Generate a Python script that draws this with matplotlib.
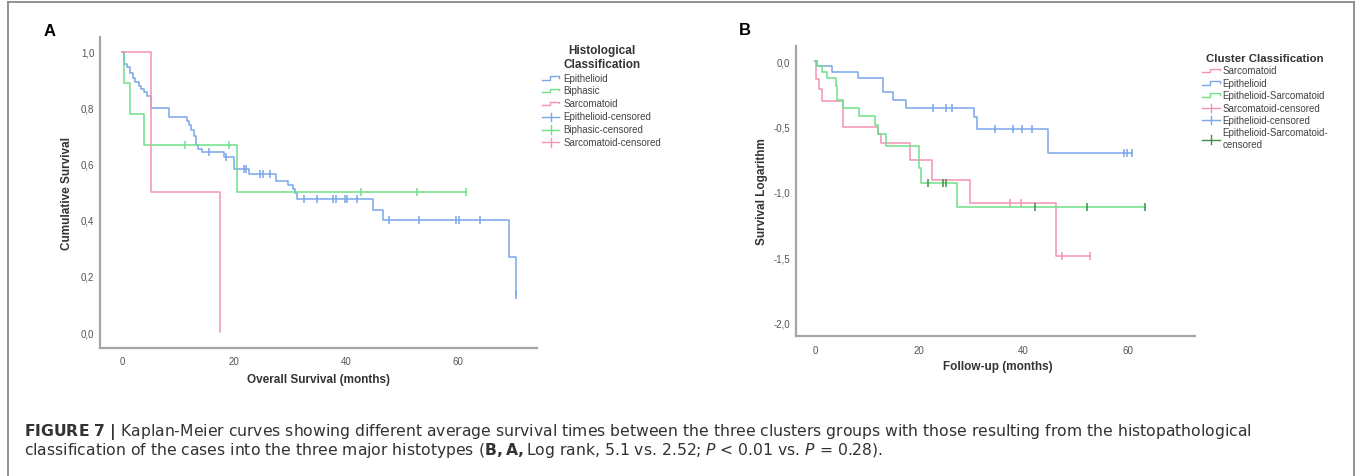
import numpy as np
import matplotlib
matplotlib.use("Agg")
import matplotlib.pyplot as plt
from matplotlib.lines import Line2D
from matplotlib.legend_handler import HandlerBase

plt.rcParams['font.family'] = ['Liberation Sans', 'DejaVu Sans']
plt.rcParams['mathtext.fontset'] = 'dejavusans'

# ---- panel A : histological classification (cumulative survival) ----
a_epi_t = [0, 0.3, 1.0, 1.5, 1.9, 2.4, 3.0, 3.4, 4.0, 4.5, 5.2, 8.4, 11.6, 12.0, 12.4,
           12.8, 13.2, 13.6, 14.3, 18.2, 19.9, 22.7, 27.5, 29.6, 30.5, 30.9, 31.2,
           44.8, 46.6, 69.1, 70.3]
a_epi_s = [1.0, 0.956, 0.944, 0.925, 0.907, 0.893, 0.878, 0.866, 0.855, 0.84, 0.80,
           0.766, 0.752, 0.738, 0.72, 0.70, 0.667, 0.653, 0.641, 0.623, 0.582, 0.564,
           0.54, 0.523, 0.51, 0.496, 0.473, 0.435, 0.40, 0.267, 0.133]
a_epi_cens = [15.5, 18.5, 21.7, 22.1, 24.7, 25.2, 26.4, 32.5, 34.8, 37.6, 38.2, 39.8,
              40.1, 42.0, 47.6, 53.0, 59.5, 60.1, 63.8, 70.3]
a_epi_end = 70.3

a_bip_t = [0, 0.3, 1.5, 4.0, 20.5]
a_bip_s = [1.0, 0.889, 0.778, 0.667, 0.5]
a_bip_cens = [11.2, 19.1, 42.6, 52.6, 61.4]
a_bip_end = 61.4

a_sar_t = [0, 5.2, 17.5]
a_sar_s = [1.0, 0.5, 0.0]
a_sar_cens = []
a_sar_end = 17.5

a_xticks = [0, 20, 40, 60]
a_yticks = [0.0, 0.2, 0.4, 0.6, 0.8, 1.0]
a_ytick_labels = ['0,0', '0,2', '0,4', '0,6', '0,8', '1,0']

# ---- panel B : cluster classification (log survival) ----
b_sar_t = [0, 0.2, 0.8, 1.3, 5.4, 12.1, 12.6, 18.2, 22.4, 29.7, 46.3]
b_sar_v = [0, -0.135, -0.21, -0.30, -0.50, -0.56, -0.625, -0.755, -0.908, -1.087, -1.495]
b_sar_cens = [37.4, 39.5, 47.3, 52.7]
b_sar_end = 52.7

b_epi_t = [0, 0.3, 3.2, 8.3, 13.1, 15.0, 17.4, 30.5, 31.0, 44.7]
b_epi_v = [0, -0.038, -0.079, -0.13, -0.237, -0.293, -0.355, -0.43, -0.52, -0.704]
b_epi_cens = [22.7, 25.2, 26.3, 34.6, 38.0, 39.7, 41.7, 59.2, 59.9, 60.9]
b_epi_end = 60.9

b_es_t = [0, 0.3, 1.3, 2.4, 4.0, 4.2, 5.4, 8.4, 11.5, 12.0, 13.6, 20.0, 20.3, 27.3]
b_es_v = [0, -0.038, -0.079, -0.13, -0.186, -0.293, -0.355, -0.42, -0.49, -0.56,
          -0.645, -0.82, -0.93, -1.117]
b_es_cens = [21.7, 24.5, 25.2, 42.3, 52.2, 63.4]
b_es_end = 63.4

b_xticks = [0, 20, 40, 60]
b_yticks = [-2.0, -1.5, -1.0, -0.5, 0.0]
b_ytick_labels = ['-2,0', '-1,5', '-1,0', '-0,5', '0,0']

caption1 = (r"$\mathbf{FIGURE\ 7\ |}$ Kaplan-Meier curves showing different average survival "
            "times between the three clusters groups with those resulting from the "
            "histopathological")
caption2 = (r"classification of the cases into the three major histotypes "
            r"($\mathbf{B,A,}$Log rank, 5.1 vs. 2.52; $\mathit{P}$ < 0.01 vs. "
            r"$\mathit{P}$ = 0.28).")

BLUE = '#7aa6ea'
GREEN = '#6fdf88'
PINK = '#f493b0'
DKGREEN = '#3f8f45'
SPINE = '#a5a5a5'
TICK = '#555555'


class StepHandler(HandlerBase):
    def create_artists(self, legend, orig, xd, yd, w, h, fontsize, trans):
        x0, y0 = -xd, -yd
        xs = [x0, x0 + 0.45 * w, x0 + 0.45 * w, x0 + w, x0 + w]
        ys = [y0 + 0.15 * h, y0 + 0.15 * h, y0 + 0.7 * h, y0 + 0.7 * h, y0 + 0.45 * h]
        return [Line2D(xs, ys, color=orig.get_color(), lw=1.0, transform=trans)]


class CensorHandler(HandlerBase):
    def create_artists(self, legend, orig, xd, yd, w, h, fontsize, trans):
        x0, y0 = -xd, -yd
        l1 = Line2D([x0, x0 + w], [y0 + 0.4 * h] * 2, color=orig.get_color(), lw=1.0,
                    transform=trans)
        l2 = Line2D([x0 + 0.5 * w] * 2, [y0 - 0.2 * h, y0 + 1.0 * h],
                    color=orig.get_color(), lw=1.0, transform=trans)
        return [l1, l2]


class Censor:
    def __init__(self, color):
        self.color = color

    def get_color(self):
        return self.color


def km(ax, t, s, cens, end, color, mcolor=None):
    xs = list(t) + [end]
    ys = list(s) + [s[-1]]
    ax.step(xs, ys, where='post', color=color, lw=1.1)
    if len(cens):
        idx = np.searchsorted(t, cens, side='right') - 1
        ax.plot(cens, np.array(s)[idx], ls='none', marker='|', ms=6, mew=1.1,
                color=mcolor or color)


def style(ax):
    for sp in ['top', 'right']:
        ax.spines[sp].set_visible(False)
    for sp in ['left', 'bottom']:
        ax.spines[sp].set_color(SPINE)
        ax.spines[sp].set_linewidth(1.6)
    ax.tick_params(length=0, labelsize=7, labelcolor=TICK)
    ax.tick_params(axis='y', pad=4)
    ax.tick_params(axis='x', pad=6)


fig = plt.figure(figsize=(13.57, 4.77), dpi=100)

# frame
for xs, ys in [([0.006, 0.006], [0, 0.994]), ([0.006, 0.998], [0.994, 0.994]),
               ([0.998, 0.998], [0, 0.994])]:
    fig.add_artist(Line2D(xs, ys, color='#888888', lw=1.3, transform=fig.transFigure))

# ---- A ----
axA = fig.add_axes([0.0737, 0.2683, 0.322, 0.652])
km(axA, a_epi_t, a_epi_s, a_epi_cens, a_epi_end, BLUE)
km(axA, a_bip_t, a_bip_s, a_bip_cens, a_bip_end, GREEN)
km(axA, a_sar_t, a_sar_s, a_sar_cens, a_sar_end, PINK)
axA.set_xlim(-3.9, 74)
axA.set_ylim(-0.057, 1.052)
axA.set_xticks(a_xticks)
axA.set_yticks(a_yticks)
axA.set_yticklabels(a_ytick_labels)
style(axA)
axA.set_xlabel('Overall Survival (months)', fontsize=8.5, fontweight='bold', color='#333333')
axA.set_ylabel('Cumulative Survival', fontsize=8.5, fontweight='bold', color='#333333')
axA.xaxis.set_label_coords(0.5, -0.0997)
axA.xaxis.label.set_va('center')
axA.yaxis.set_label_coords(-0.0755, 0.5)
axA.yaxis.label.set_va('center')

hA = [Line2D([], [], color=BLUE), Line2D([], [], color=GREEN), Line2D([], [], color=PINK),
      Censor(BLUE), Censor(GREEN), Censor(PINK)]
lA = ['Epithelioid', 'Biphasic', 'Sarcomatoid', 'Epithelioid-censored',
      'Biphasic-censored', 'Sarcomatoid-censored']
legA = fig.legend(hA, lA, loc='upper left', bbox_to_anchor=(537 / 1357, 1 - 40 / 477),
                  frameon=False, fontsize=7, labelcolor='#444444', borderpad=0,
                  handlelength=1.8, handletextpad=0.45, labelspacing=0.3,
                  title='Histological\nClassification',
                  title_fontproperties={'weight': 'bold', 'size': 8.5},
                  handler_map={Line2D: StepHandler(), Censor: CensorHandler()})
legA.get_title().set_color('#333333')
legA.get_title().set_multialignment('center')

fig.text(50 / 1357, 1 - 36 / 477, 'A', fontsize=12, fontweight='bold', ha='center',
         va='baseline')

# ---- B ----
axB = fig.add_axes([795.7 / 1357, 1 - 337.3 / 477, 399.3 / 1357, 290.6 / 477])
km(axB, b_sar_t, b_sar_v, b_sar_cens, b_sar_end, PINK)
km(axB, b_epi_t, b_epi_v, b_epi_cens, b_epi_end, BLUE)
km(axB, b_es_t, b_es_v, b_es_cens, b_es_end, GREEN, DKGREEN)
axB.set_xlim(-3.7, 72.9)
axB.set_ylim(-2.107, 0.12)
axB.set_xticks(b_xticks)
axB.set_yticks(b_yticks)
axB.set_yticklabels(b_ytick_labels)
style(axB)
axB.set_xlabel('Follow-up (months)', fontsize=8.5, fontweight='bold', color='#333333')
axB.set_ylabel('Survival Logarithm', fontsize=8.5, fontweight='bold', color='#333333')
axB.xaxis.set_label_coords(0.507, -0.102)
axB.xaxis.label.set_va('center')
axB.yaxis.set_label_coords(-0.0844, 0.5)
axB.yaxis.label.set_va('center')

hB = [Line2D([], [], color=PINK), Line2D([], [], color=BLUE), Line2D([], [], color=GREEN),
      Censor(PINK), Censor(BLUE), Censor(DKGREEN)]
lB = ['Sarcomatoid', 'Epithelioid', 'Epithelioid-Sarcomatoid', 'Sarcomatoid-censored',
      'Epithelioid-censored', 'Epithelioid-Sarcomatoid-\ncensored']
legB = fig.legend(hB, lB, loc='upper left', bbox_to_anchor=(1197 / 1357, 1 - 49 / 477),
                  frameon=False, fontsize=7, labelcolor='#444444', borderpad=0,
                  handlelength=1.9, handletextpad=0.2, labelspacing=0.25,
                  title='Cluster Classification',
                  title_fontproperties={'weight': 'bold', 'size': 8.2},
                  handler_map={Line2D: StepHandler(), Censor: CensorHandler()})
legB.get_title().set_color('#333333')

fig.text(745 / 1357, 1 - 35 / 477, 'B', fontsize=12, fontweight='bold', ha='center',
         va='baseline')

# ---- caption ----
fig.text(24 / 1357, 1 - 436 / 477, caption1, fontsize=11.25, color='#333333',
         family='DejaVu Sans', va='baseline')
fig.text(24 / 1357, 1 - 455 / 477, caption2, fontsize=11.25, color='#333333',
         family='DejaVu Sans', va='baseline')

fig.savefig('out.png', dpi=100)
